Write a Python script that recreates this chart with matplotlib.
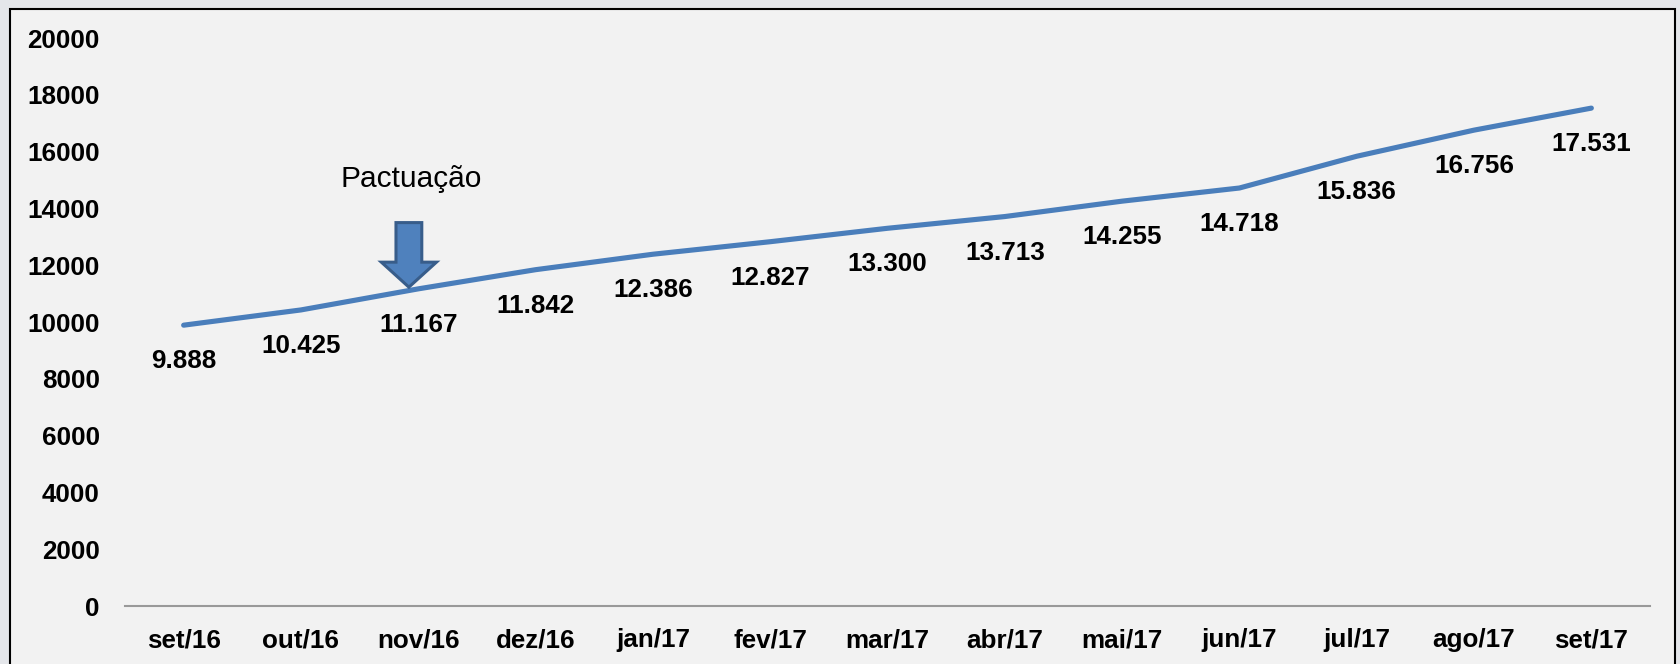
import numpy as np
import matplotlib.pyplot as plt
from matplotlib.patches import Rectangle, Polygon

plt.rcParams['font.family'] = ['Liberation Sans', 'DejaVu Sans']

months = ["set/16", "out/16", "nov/16", "dez/16", "jan/17", "fev/17", "mar/17",
          "abr/17", "mai/17", "jun/17", "jul/17", "ago/17", "set/17"]
values = [9888, 10425, 11167, 11842, 12386, 12827, 13300,
          13713, 14255, 14718, 15836, 16756, 17531]
labels = ["9.888", "10.425", "11.167", "11.842", "12.386", "12.827", "13.300",
          "13.713", "14.255", "14.718", "15.836", "16.756", "17.531"]
yticks = np.arange(0, 20001, 2000)

W, H = 1680, 664
fig = plt.figure(figsize=(W / 100, H / 100), dpi=100)
fig.patch.set_facecolor("#e4e6ea")
# chart box
box = Rectangle((10 / W, -0.01), (1675 - 10) / W, (H - 9) / H + 0.01,
                transform=fig.transFigure, facecolor="#f2f2f2",
                edgecolor="black", linewidth=1.5, zorder=-5)
fig.add_artist(box)

ax = fig.add_axes([125 / W, (H - 606) / H, (1650 - 125) / W, (606 - 38) / H])
ax.set_facecolor("none")
x = np.arange(len(months))
ax.plot(x, values, color="#4a7ebb", linewidth=3.7, solid_capstyle="round")
ax.set_xlim(-0.5, len(months) - 0.5)
ax.set_ylim(0, 20000)
ax.set_xticks(x)
ax.set_xticklabels(months, fontsize=18.7, fontweight="bold")
ax.set_yticks(yticks)
ax.set_yticklabels([str(v) for v in yticks], fontsize=18.7, fontweight="bold")
ax.tick_params(axis="both", length=0)
ax.tick_params(axis="y", pad=18)
ax.tick_params(axis="x", pad=16)
for s in ["top", "right", "left"]:
    ax.spines[s].set_visible(False)
ax.spines["bottom"].set_color("#999999")
ax.spines["bottom"].set_linewidth(1.5)

for xi, v, lab in zip(x, values, labels):
    ax.annotate(lab, (xi, v), xytext=(0, -26), textcoords="offset points",
                ha="center", va="center", fontsize=18.7, fontweight="bold")

# annotation arrow pointing at nov/16
i = 2
tip_x, tip_y = i - 0.08, values[i] + 60
sw, hw, hl, top = 0.11, 0.235, 880, 13500
arrow = Polygon([(tip_x, tip_y), (tip_x - hw, tip_y + hl), (tip_x - sw, tip_y + hl),
                 (tip_x - sw, top), (tip_x + sw, top), (tip_x + sw, tip_y + hl),
                 (tip_x + hw, tip_y + hl)], closed=True,
                facecolor="#4f81bd", edgecolor="#385d8a", linewidth=2.2, zorder=3)
ax.add_patch(arrow)
ax.text(tip_x + 0.02, 15050, "Pactuação", ha="center", va="center", fontsize=21.5)

fig.savefig("out.png", dpi=100, facecolor=fig.get_facecolor())
